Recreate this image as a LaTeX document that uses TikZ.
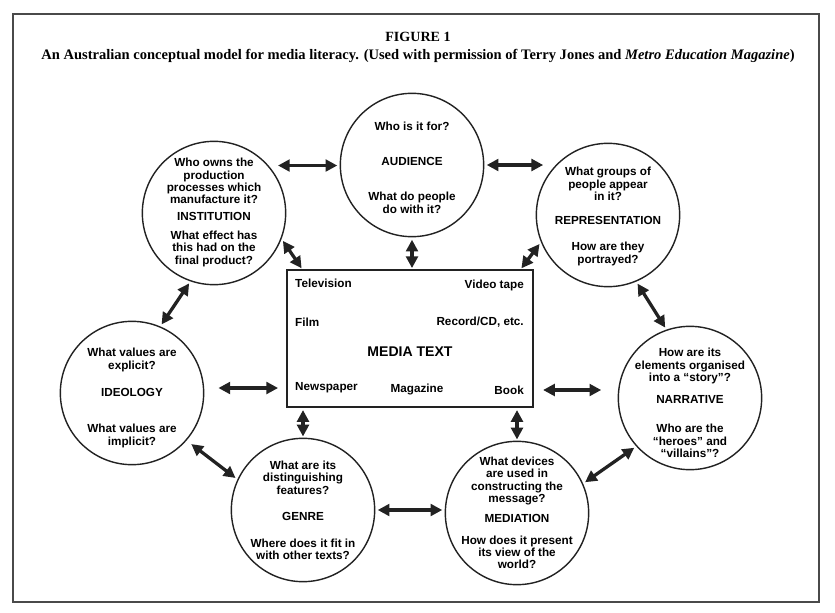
\documentclass[tikz,border=0pt]{standalone}
\usepackage{fontspec}
\setmainfont{Liberation Serif}
\setsansfont{Liberation Sans}
\usetikzlibrary{arrows.meta,calc}
\definecolor{InkBlack}{HTML}{222222}
\definecolor{FrameGray}{HTML}{4A4A4A}

\begin{document}
\begin{tikzpicture}[
  x=0.03cm, y=-0.03cm,
  font=\sffamily\bfseries,
  % concept circle (outline only)
  topic/.style={draw=InkBlack, circle, line width=1.2pt,
                minimum size=4.3cm, inner sep=0pt},
  % questions + concept name inside a circle
  ques/.style={align=center, inner sep=0pt,
               font=\sffamily\bfseries\fontsize{10}{10.5}\selectfont},
  % media names inside the central box
  medium/.style={inner sep=0pt,
                 font=\sffamily\bfseries\fontsize{10}{12}\selectfont},
  % two-headed link
  link/.style={{Triangle[length=10pt,width=10pt]}-{Triangle[length=10pt,width=10pt]},
               draw=InkBlack, line width=2.8pt,
               shorten <=2pt, shorten >=2pt},
]
\useasboundingbox (0,0) rectangle (835,612);

%% ── Frame and caption ────────────────────────────────────────────────────
\draw[FrameGray, line width=1.4pt] (13,14) rectangle (819,602);
\node[font=\rmfamily\bfseries\fontsize{12}{14}\selectfont] (fig) at (418,37) {FIGURE 1};
\node[font=\rmfamily\bfseries\fontsize{12.4}{14}\selectfont] (cap) at (418,56)
  {An Australian conceptual model for media literacy. (Used with permission of Terry Jones and \textit{Metro Education Magazine})};

%% ── Central box ──────────────────────────────────────────────────────────
\node[draw=InkBlack, line width=1.2pt, minimum width=7.38cm, minimum height=4.11cm] (box) at (410,338.5) {};
\node[medium, anchor=west] (tv)   at (295,283) {Television};
\node[medium, anchor=east] (vid)  at (524,285) {Video tape};
\node[medium, anchor=west] (film) at (295,322) {Film};
\node[medium, anchor=east] (rec)  at (524,322) {Record/CD, etc.};
\node[font=\sffamily\bfseries\fontsize{12}{14}\selectfont, inner sep=0pt] (mt) at (410,352) {MEDIA TEXT};
\node[medium, anchor=west] (news) at (295,388) {Newspaper};
\node[medium]              (mag)  at (417,389) {Magazine};
\node[medium, anchor=east] (book) at (524,390) {Book};

%% ── Concept circles ──────────────────────────────────────────────────────
\node[topic] (inst)  at (214,213) {};
\node[topic] (aud)   at (412,165) {};
\node[topic] (rep)   at (608,215) {};
\node[topic] (ideo)  at (132,393) {};
\node[topic] (narr)  at (690,398) {};
\node[topic] (genre) at (303,510) {};
\node[topic] (med)   at (517,513) {};

\node[ques] (instq) at (214,212.5)
  {Who owns the\\ production\\ processes which\\ manufacture it?\\[3.4pt]
   INSTITUTION\\[6pt] What effect has\\ this had on the\\ final product?};
\node[ques] (audq) at (412,167.5)
  {Who is it for?\\[19.6pt] AUDIENCE\\[19.6pt] What do people\\ do with it?};
\node[ques] (repq) at (608,216.5)
  {What groups of\\ people appear\\ in it?\\[10pt] REPRESENTATION\\[12pt]
   How are they\\ portrayed?};
\node[ques] (ideoq) at (132,398)
  {What values are\\ explicit?\\[12.8pt] IDEOLOGY\\[20.4pt] What values are\\ implicit?};
\node[ques] (narrq) at (690,403)
  {How are its\\ elements organised\\ into a “story”?\\[8.5pt] NARRATIVE\\[14.5pt]
   Who are the\\ “heroes” and\\ “villains”?};
\node[ques] (genreq) at (303,510.5)
  {What are its\\ distinguishing\\ features?\\[12pt] GENRE\\[12.8pt]
   Where does it fit in\\ with other texts?};
\node[ques] (medq) at (517,513)
  {What devices\\ are used in\\ constructing the\\ message?\\[7pt] MEDIATION\\[7.7pt]
   How does it present\\ its view of the\\ world?};

%% ── Links between circles ────────────────────────────────────────────────
\draw[link, shorten <=8pt] (inst.41) -- (inst.41 -| aud.west);
\draw[link, shorten >=8pt] (aud.east) -- (aud.east -| rep.140);
\draw[link] (inst.-109) -- (ideo.67);
\draw[link] (rep.-67) -- (narr.109);
\draw[link, shorten <=5pt] (ideo.-41) -- (genre.155);
\draw[link] (med.24) -- (narr.-138);
\draw[link] (genre.east) -- (genre.east -| med.west);

%% ── Links circle ↔ media text ────────────────────────────────────────────
\draw[link, shorten >=1pt] (inst.-21) -- ([xshift=0.48cm]box.north west);
\draw[link, shorten >=1pt] (aud.south) -- (aud.south |- box.north);
\draw[link, shorten >=1pt] (rep.202) -- ([xshift=-0.39cm]box.north east);
\draw[link, shorten <=12pt, shorten >=7pt] (ideo.east |- news) -- (box.west |- news);
\draw[link, shorten <=8pt, shorten >=14pt] (box.east |- book) -- (narr.west |- book);
\draw[link, shorten <=1pt] (genre.north) -- (genre.north |- box.south);
\draw[link, shorten <=1pt] (med.north) -- (med.north |- box.south);

\end{tikzpicture}
\end{document}
